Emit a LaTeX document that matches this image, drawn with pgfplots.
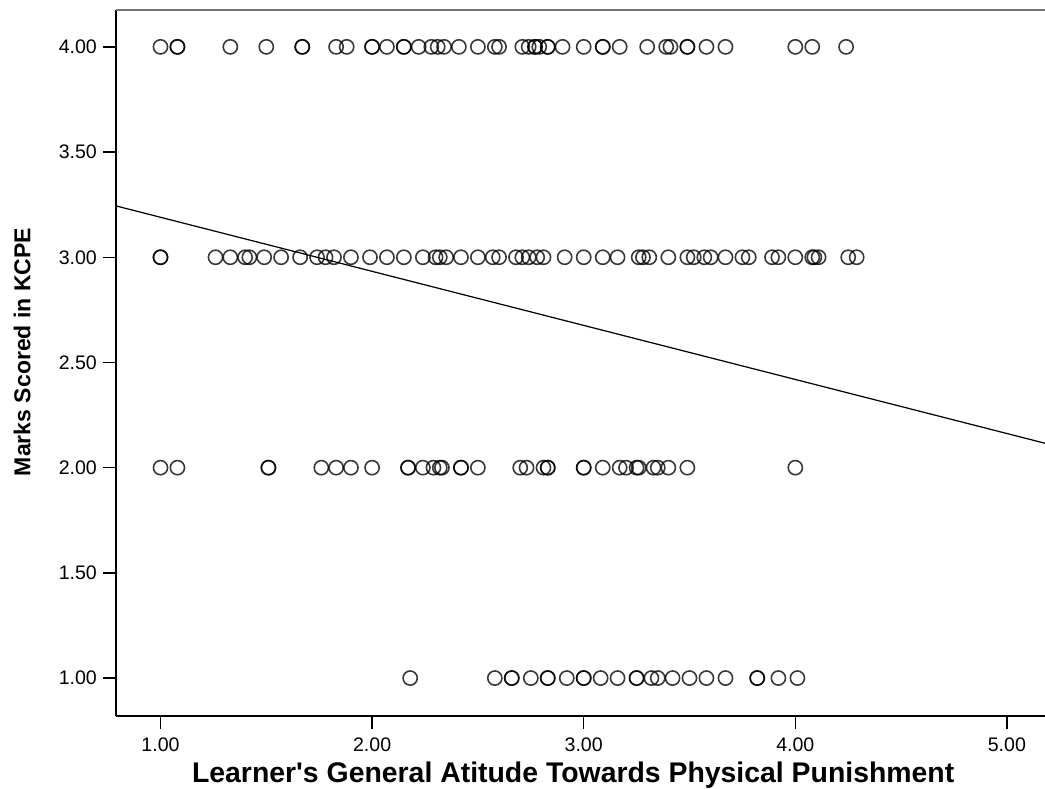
\documentclass[border=0pt]{standalone}
\usepackage{fontspec}
\setmainfont{Liberation Sans}
\usepackage{pgfplots}
\usepackage{pgfplotstable}
\pgfplotsset{compat=1.18}

% marks scored (y) against attitude score (x)
\pgfplotstableread{
x y
1.00 4
1.08 4
1.08 4
1.33 4
1.50 4
1.67 4
1.67 4
1.83 4
1.88 4
2.00 4
2.00 4
2.07 4
2.15 4
2.15 4
2.22 4
2.28 4
2.31 4
2.34 4
2.41 4
2.50 4
2.58 4
2.60 4
2.71 4
2.74 4
2.77 4
2.77 4
2.79 4
2.83 4
2.83 4
2.90 4
3.00 4
3.09 4
3.09 4
3.17 4
3.30 4
3.39 4
3.41 4
3.49 4
3.49 4
3.58 4
3.67 4
4.00 4
4.08 4
4.24 4
1.00 3
1.00 3
1.26 3
1.33 3
1.40 3
1.42 3
1.49 3
1.57 3
1.66 3
1.74 3
1.78 3
1.82 3
1.90 3
1.99 3
2.07 3
2.15 3
2.24 3
2.30 3
2.32 3
2.35 3
2.42 3
2.50 3
2.57 3
2.60 3
2.68 3
2.71 3
2.74 3
2.78 3
2.81 3
2.91 3
3.00 3
3.09 3
3.16 3
3.26 3
3.28 3
3.31 3
3.40 3
3.49 3
3.52 3
3.57 3
3.60 3
3.67 3
3.75 3
3.78 3
3.89 3
3.92 3
4.00 3
4.08 3
4.09 3
4.11 3
4.25 3
4.29 3
1.00 2
1.08 2
1.51 2
1.51 2
1.76 2
1.83 2
1.90 2
2.00 2
2.17 2
2.17 2
2.24 2
2.29 2
2.32 2
2.33 2
2.42 2
2.42 2
2.50 2
2.70 2
2.73 2
2.81 2
2.83 2
2.83 2
3.00 2
3.00 2
3.09 2
3.17 2
3.20 2
3.25 2
3.26 2
3.33 2
3.35 2
3.40 2
3.49 2
4.00 2
2.18 1
2.58 1
2.66 1
2.66 1
2.75 1
2.83 1
2.83 1
2.92 1
3.00 1
3.00 1
3.08 1
3.16 1
3.25 1
3.25 1
3.32 1
3.35 1
3.42 1
3.50 1
3.58 1
3.67 1
3.82 1
3.82 1
3.92 1
4.01 1
}\scores

\begin{document}
\begin{tikzpicture}
\begin{axis}[
    width=379.4pt, height=288.3pt,
    scale only axis,
    xmin=0.79, xmax=5.18,
    ymin=0.82, ymax=4.175,
    axis x line*=bottom,
    axis y line*=left,
    axis line style={line width=0.6pt, black},
    xtick={1,2,3,4,5},
    ytick={1,1.5,2,2.5,3,3.5,4},
    tick align=outside,
    major tick length=5.3pt,
    tick style={line width=0.6pt, black},
    /pgf/number format/assume math mode=true,
    /pgf/number format/.cd, fixed, fixed zerofill, precision=2, /pgfplots/.cd,
    tick label style={font=\fontsize{8}{9}\selectfont},
    yticklabel style={xshift=1pt},
    xlabel={\textbf{Learner\textquotesingle s General Atitude Towards Physical Punishment}},
    ylabel={\textbf{Marks Scored in KCPE}},
    xlabel style={font=\fontsize{11.6}{13}\selectfont, yshift=2.6pt, xshift=-3pt},
    ylabel style={font=\fontsize{9.4}{11}\selectfont, yshift=4.6pt, xshift=4.5pt},
    clip=false,
]
\addplot[only marks, mark=o, mark size=2.9pt,
    mark options={draw=black, draw opacity=0.78, line width=0.65pt}]
    table[x=x, y=y] {\scores};
\addplot[black, line width=0.5pt] coordinates {(0.79,3.244) (5.18,2.116)};
\draw[black!55, line width=0.7pt] (rel axis cs:0,1) -- (rel axis cs:1,1);
\coordinate (bl) at (rel axis cs:0,0);
\coordinate (tr) at (rel axis cs:1,1);
\end{axis}
\pgfresetboundingbox
\path ([shift={(-47.4pt,-29.8pt)}]bl) rectangle ([shift={(0pt,4.1pt)}]tr);
\end{tikzpicture}
\end{document}
